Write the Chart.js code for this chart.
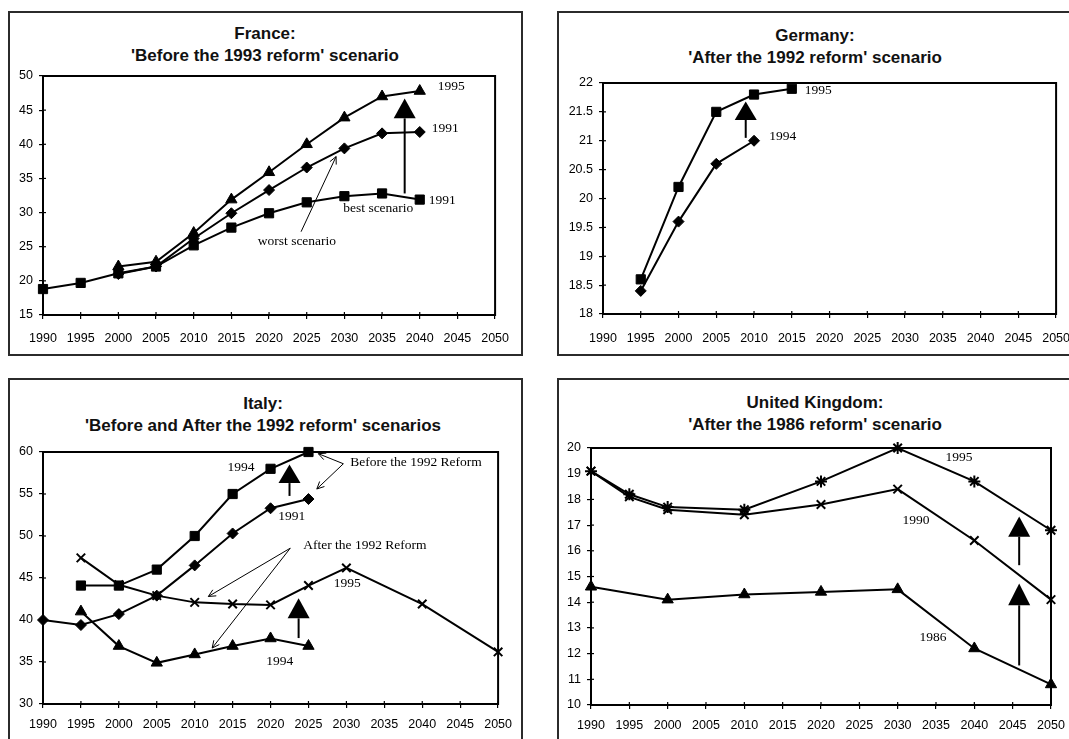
<!DOCTYPE html>
<html>
<head>
<meta charset="utf-8">
<script src="https://cdn.jsdelivr.net/npm/chart.js@4.4.1/dist/chart.umd.min.js"></script>
<style>
  html, body { margin: 0; padding: 0; width: 1069px; height: 739px; overflow: hidden; background: #fff; }
  .box { position: absolute; border: 2px solid #2b2b2b; box-sizing: border-box; }
  .ttl { position: absolute; font: bold 17px "Liberation Sans", Arial, sans-serif; line-height: 22px;
         text-align: center; color: #111; white-space: nowrap; transform: translateX(-50%); }
  canvas { position: absolute; }
</style>
</head>
<body>
<script>
// ---- data ----
const YEAR_TICKS = [1990, 1995, 2000, 2005, 2010, 2015, 2020, 2025, 2030, 2035, 2040, 2045, 2050];

// France
const FR_YEARS     = [1990, 1995, 2000, 2005, 2010, 2015, 2020, 2025, 2030, 2035, 2040];
const FR_1995      = [null, null, 22.1, 22.8, 27.0, 31.9, 35.9, 40.0, 43.9, 47.0, 47.8];
const FR_1991      = [null, null, 21.0, 22.1, 26.2, 29.9, 33.3, 36.6, 39.4, 41.6, 41.8];
const FR_1991_BEST = [18.8, 19.7, 21.1, 22.1, 25.2, 27.8, 29.9, 31.5, 32.4, 32.8, 31.9];

// Germany
const DE_YEARS = [1995, 2000, 2005, 2010, 2015];
const DE_1995  = [18.6, 20.2, 21.5, 21.8, 21.9];
const DE_1994  = [18.4, 19.6, 20.6, 21.0, null];

// Italy
const IT_YEARS       = [1990, 1995, 2000, 2005, 2010, 2015, 2020, 2025, 2030, 2040, 2050];
const IT_1994_BEFORE = [null, 44.1, 44.1, 46.0, 50.0, 55.0, 58.0, 60.0, null, null, null];
const IT_1991_BEFORE = [40.0, 39.4, 40.7, 42.9, 46.5, 50.3, 53.3, 54.4, null, null, null];
const IT_1995_AFTER  = [null, 47.4, 44.2, 42.9, 42.1, 41.9, 41.8, 44.1, 46.2, 41.9, 36.2];
const IT_1994_AFTER  = [null, 41.0, 36.9, 34.9, 35.9, 36.9, 37.8, 36.9, null, null, null];

// United Kingdom
const UK_YEARS = [1990, 1995, 2000, 2010, 2020, 2030, 2040, 2050];
const UK_1995  = [19.1, 18.2, 17.7, 17.6, 18.7, 20.0, 18.7, 16.8];
const UK_1990  = [19.1, 18.1, 17.6, 17.4, 17.8, 18.4, 16.4, 14.1];
const UK_1986  = [14.6, null, 14.1, 14.3, 14.4, 14.5, 12.2, 10.8];

// ---- helpers ----
function pts(years, vals) {
  return years.map((x, i) => ({ x, y: vals[i] })).filter(p => p.y !== null);
}

const MARKERS = {
  square:   { pointStyle: 'rect',     pointRadius: 6.5, pointBorderWidth: 1 },
  diamond:  { pointStyle: 'rectRot',  pointRadius: 5.5, pointBorderWidth: 1 },
  triangle: { pointStyle: 'triangle', pointRadius: 6.5, pointBorderWidth: 1 },
  cross:    { pointStyle: 'crossRot', pointRadius: 6,   pointBorderWidth: 2 },
  star:     { pointStyle: 'star',     pointRadius: 6,   pointBorderWidth: 2 }
};

function series(label, years, vals, marker) {
  return Object.assign({
    label,
    data: pts(years, vals),
    borderColor: '#000',
    backgroundColor: '#000',
    pointBackgroundColor: '#000',
    pointBorderColor: '#000',
    borderWidth: 2,
    tension: 0,
    clip: false
  }, MARKERS[marker]);
}

// plot frame plus the inner half of each tick mark
const framePlugin = {
  id: 'frame',
  afterDraw(chart) {
    const { ctx, chartArea: a, scales: { x, y } } = chart;
    ctx.save();
    ctx.strokeStyle = '#000';
    ctx.lineWidth = 2;
    ctx.strokeRect(a.left, a.top, a.right - a.left, a.bottom - a.top);
    ctx.lineWidth = 1.2;
    x.ticks.forEach(t => {
      const px = x.getPixelForValue(t.value);
      ctx.beginPath(); ctx.moveTo(px, a.bottom); ctx.lineTo(px, a.bottom - 3); ctx.stroke();
    });
    y.ticks.forEach(t => {
      const py = y.getPixelForValue(t.value);
      ctx.beginPath(); ctx.moveTo(a.left, py); ctx.lineTo(a.left + 3, py); ctx.stroke();
    });
    ctx.restore();
  }
};

// curve labels, thin pointer arrows and the bold "shift" arrows
function notesPlugin(cfg) {
  return {
    id: 'notes',
    afterDatasetsDraw(chart) {
      const { ctx, scales: { x, y } } = chart;
      ctx.save();
      ctx.fillStyle = '#000';
      ctx.strokeStyle = '#000';
      ctx.font = '13.5px "Liberation Serif", "Times New Roman", serif';
      ctx.textBaseline = 'middle';
      (cfg.labels || []).forEach(l => {
        ctx.textAlign = l.align || 'left';
        ctx.fillText(l.text, x.getPixelForValue(l.x), y.getPixelForValue(l.y));
      });
      (cfg.pointers || []).forEach(p => {
        const x0 = x.getPixelForValue(p.x0), y0 = y.getPixelForValue(p.y0);
        const x1 = x.getPixelForValue(p.x1), y1 = y.getPixelForValue(p.y1);
        const ang = Math.atan2(y1 - y0, x1 - x0);
        ctx.lineWidth = 1;
        ctx.beginPath(); ctx.moveTo(x0, y0); ctx.lineTo(x1, y1); ctx.stroke();
        ctx.beginPath();
        ctx.moveTo(x1 - 8 * Math.cos(ang - 0.45), y1 - 8 * Math.sin(ang - 0.45));
        ctx.lineTo(x1, y1);
        ctx.lineTo(x1 - 8 * Math.cos(ang + 0.45), y1 - 8 * Math.sin(ang + 0.45));
        ctx.stroke();
      });
      (cfg.shifts || []).forEach(s => {
        const px = x.getPixelForValue(s.x);
        const pFoot = y.getPixelForValue(s.from);
        const pBase = y.getPixelForValue(s.base);
        const pTip = y.getPixelForValue(s.tip);
        ctx.lineWidth = 2;
        ctx.beginPath(); ctx.moveTo(px, pFoot); ctx.lineTo(px, pBase); ctx.stroke();
        ctx.beginPath();
        ctx.moveTo(px - 11, pBase); ctx.lineTo(px + 11, pBase); ctx.lineTo(px, pTip);
        ctx.closePath(); ctx.fill();
      });
      ctx.restore();
    }
  };
}

function makePanel(p) {
  const box = document.createElement('div');
  box.className = 'box';
  Object.assign(box.style, { left: p.box.l + 'px', top: p.box.t + 'px',
    width: (p.box.r - p.box.l) + 'px', height: (p.box.b - p.box.t) + 'px' });
  document.body.appendChild(box);

  const title = document.createElement('div');
  title.className = 'ttl';
  title.style.left = p.title.cx + 'px';
  title.style.top = p.title.top + 'px';
  title.innerHTML = p.title.lines.map(s => s.replace(/&/g, '&amp;')).join('<br>');
  document.body.appendChild(title);

  const cv = document.createElement('canvas');
  const c = { l: p.box.l + 2, t: p.box.t + 2, r: p.box.r - 2, b: p.box.b - 2 };
  cv.width = c.r - c.l; cv.height = c.b - c.t;
  cv.style.left = c.l + 'px'; cv.style.top = c.t + 'px';
  document.body.appendChild(cv);

  const yW = p.yW || 30, xH = 30;
  const tickFont = { family: '"Liberation Sans", Arial, sans-serif', size: 12.5 };

  new Chart(cv, {
    type: 'line',
    data: { datasets: p.datasets },
    options: {
      responsive: false,
      animation: false,
      events: [],
      layout: { padding: {
        left: p.plot.l - c.l - yW,
        right: c.r - p.plot.r,
        top: p.plot.t - c.t,
        bottom: c.b - p.plot.b - xH
      } },
      plugins: { legend: { display: false }, tooltip: { enabled: false }, title: { display: false } },
      scales: {
        x: {
          type: 'linear', min: 1990, max: 2050,
          afterFit: s => { s.height = xH; },
          afterBuildTicks: s => { s.ticks = YEAR_TICKS.map(v => ({ value: v })); },
          ticks: { color: '#000', font: tickFont, padding: p.xPad, maxRotation: 0, autoSkip: false,
                   callback: v => String(v) },
          grid: { drawOnChartArea: false, drawTicks: true, tickLength: 4, color: '#000', lineWidth: 1.2 },
          border: { display: true, color: '#000', width: 2 }
        },
        y: {
          type: 'linear', min: p.yTicks[0], max: p.yTicks[p.yTicks.length - 1],
          afterFit: s => { s.width = yW; },
          afterBuildTicks: s => { s.ticks = p.yTicks.map(v => ({ value: v })); },
          ticks: { color: '#000', font: tickFont, padding: 6, autoSkip: false,
                   callback: v => String(v) },
          grid: { drawOnChartArea: false, drawTicks: true, tickLength: 4, color: '#000', lineWidth: 1.2 },
          border: { display: true, color: '#000', width: 2 }
        }
      }
    },
    plugins: [framePlugin, notesPlugin(p.notes)]
  });
}

// ---- panels ----
makePanel({
  box: { l: 8, t: 11, r: 523, b: 356 },
  plot: { l: 43, t: 76, r: 500, b: 315 },
  title: { cx: 265, top: 23, lines: ['France:', "'Before the 1993 reform' scenario"] },
  yTicks: [15, 20, 25, 30, 35, 40, 45, 50],
  xPad: 12,
  datasets: [
    series('1995', FR_YEARS, FR_1995, 'triangle'),
    series('1991', FR_YEARS, FR_1991, 'diamond'),
    series('1991 best scenario', FR_YEARS, FR_1991_BEST, 'square')
  ],
  notes: {
    labels: [
      { text: '1995', x: 2042.4, y: 48.5 },
      { text: '1991', x: 2041.6, y: 42.3 },
      { text: '1991', x: 2041.2, y: 31.8 },
      { text: 'best scenario', x: 2034.5, y: 30.6, align: 'center' },
      { text: 'worst scenario', x: 2023.7, y: 25.7, align: 'center' }
    ],
    pointers: [ { x0: 2024.25, y0: 27.2, x1: 2028.9, y1: 38.2 } ],
    shifts: [ { x: 2038.0, from: 32.8, base: 43.8, tip: 46.7 } ]
  }
});

makePanel({
  box: { l: 557, t: 11, r: 1085, b: 356 },
  plot: { l: 603, t: 83, r: 1057, b: 314 },
  title: { cx: 815, top: 25, lines: ['Germany:', "'After the 1992 reform' scenario"] },
  yTicks: [18, 18.5, 19, 19.5, 20, 20.5, 21, 21.5, 22],
  yW: 40,
  xPad: 13,
  datasets: [
    series('1995', DE_YEARS, DE_1995, 'square'),
    series('1994', DE_YEARS, DE_1994, 'diamond')
  ],
  notes: {
    labels: [
      { text: '1995', x: 2016.7, y: 21.87 },
      { text: '1994', x: 2012.0, y: 21.08 }
    ],
    shifts: [ { x: 2008.9, from: 21.05, base: 21.36, tip: 21.68 } ]
  }
});

makePanel({
  box: { l: 8, t: 378, r: 523, b: 780 },
  plot: { l: 43, t: 452, r: 500, b: 704 },
  title: { cx: 263, top: 393, lines: ['Italy:', "'Before and After the 1992 reform' scenarios"] },
  yTicks: [30, 35, 40, 45, 50, 55, 60],
  xPad: 9,
  datasets: [
    series('1994 before', IT_YEARS, IT_1994_BEFORE, 'square'),
    series('1991 before', IT_YEARS, IT_1991_BEFORE, 'diamond'),
    series('1995 after', IT_YEARS, IT_1995_AFTER, 'cross'),
    series('1994 after', IT_YEARS, IT_1994_AFTER, 'triangle')
  ],
  notes: {
    labels: [
      { text: '1994', x: 2016.1, y: 58.2, align: 'center' },
      { text: '1991', x: 2022.8, y: 52.3, align: 'center' },
      { text: 'Before the 1992 Reform', x: 2030.5, y: 58.8 },
      { text: 'After the 1992 Reform', x: 2024.3, y: 48.9 },
      { text: '1995', x: 2030.1, y: 44.35, align: 'center' },
      { text: '1994', x: 2021.2, y: 35.1, align: 'center' }
    ],
    pointers: [
      { x0: 2029.6, y0: 58.6, x1: 2026.3, y1: 59.8 },
      { x0: 2029.6, y0: 58.6, x1: 2026.1, y1: 55.6 },
      { x0: 2022.6, y0: 48.55, x1: 2011.8, y1: 42.8 },
      { x0: 2022.6, y0: 48.55, x1: 2012.3, y1: 36.66 }
    ],
    shifts: [
      { x: 2022.5, from: 54.77, base: 56.3, tip: 58.5 },
      { x: 2023.7, from: 37.85, base: 40.2, tip: 42.6 }
    ]
  }
});

makePanel({
  box: { l: 557, t: 378, r: 1085, b: 780 },
  plot: { l: 591, t: 448, r: 1051, b: 705 },
  title: { cx: 815, top: 392, lines: ['United Kingdom:', "'After the 1986 reform' scenario"] },
  yTicks: [10, 11, 12, 13, 14, 15, 16, 17, 18, 19, 20],
  xPad: 9,
  datasets: [
    series('1995', UK_YEARS, UK_1995, 'star'),
    series('1990', UK_YEARS, UK_1990, 'cross'),
    series('1986', UK_YEARS, UK_1986, 'triangle')
  ],
  notes: {
    labels: [
      { text: '1995', x: 2038.0, y: 19.63, align: 'center' },
      { text: '1990', x: 2032.4, y: 17.2, align: 'center' },
      { text: '1986', x: 2034.6, y: 12.64, align: 'center' }
    ],
    shifts: [
      { x: 2045.85, from: 15.44, base: 16.55, tip: 17.33 },
      { x: 2045.85, from: 11.54, base: 13.88, tip: 14.73 }
    ]
  }
});
</script>
</body>
</html>
